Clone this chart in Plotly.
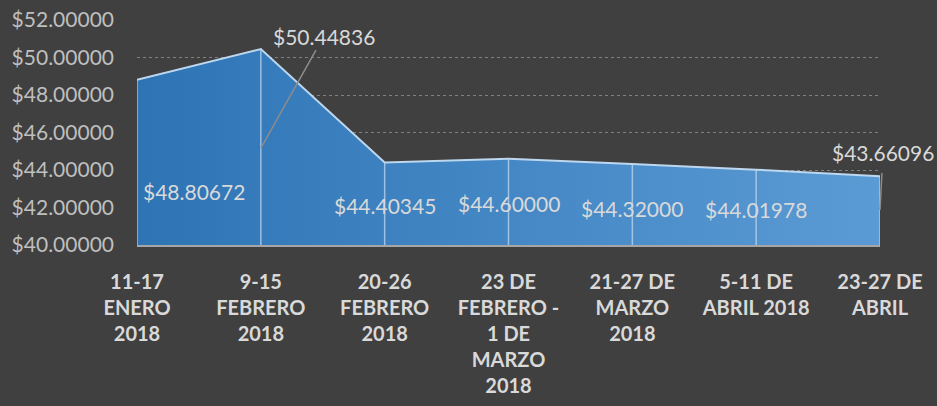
import plotly.graph_objects as go

categories = [
    "11-17<br>ENERO<br>2018",
    "9-15<br>FEBRERO<br>2018",
    "20-26<br>FEBRERO<br>2018",
    "23 DE<br>FEBRERO -<br>1 DE<br>MARZO<br>2018",
    "21-27 DE<br>MARZO<br>2018",
    "5-11 DE<br>ABRIL 2018",
    "23-27 DE<br>ABRIL",
]
prices = [48.80672, 50.44836, 44.40345, 44.60000, 44.32000, 44.01978, 43.66096]
y_ticks = [40, 42, 44, 46, 48, 50, 52]

FONT = "Lato"
LABEL_COLOR = "#D9D9D9"
FS = 21

fig = go.Figure()

# Area with horizontal gradient
fig.add_trace(go.Scatter(
    x=categories, y=prices, mode="lines",
    line=dict(color="#BDD7EE", width=2),
    fill="tozeroy",
    fillgradient=dict(type="horizontal",
                      colorscale=[[0, "#2E74B5"], [1, "#5B9BD5"]]),
    hoverinfo="skip", showlegend=False,
))

# drop lines from axis to each point
dx, dy = [], []
for c, v in zip(categories, prices):
    dx += [c, c, None]
    dy += [y_ticks[0], v, None]
fig.add_trace(go.Scatter(
    x=dx, y=dy, mode="lines",
    line=dict(color="rgba(189,215,238,0.75)", width=1.5),
    hoverinfo="skip", showlegend=False,
))

def fmt(v):
    return "$%.5f" % v

# data labels (positions in axis coordinates)
plain_labels = [(0, 0.46, 42.83), (2, 2.0, 42.13), (3, 3.0, 42.19),
                (4, 4.0, 41.97), (5, 5.0, 41.87)]
for i, xp, yp in plain_labels:
    fig.add_annotation(x=xp, y=yp, text=fmt(prices[i]), showarrow=False,
                       font=dict(family=FONT, size=FS, color=LABEL_COLOR))

# labels with leader lines
fig.add_annotation(x=1, y=45.17, text=fmt(prices[1]), showarrow=True,
                   arrowhead=0, arrowwidth=1.5, arrowcolor="#8C8C8C",
                   ax=63, ay=-112,
                   font=dict(family=FONT, size=FS, color=LABEL_COLOR))
fig.add_annotation(x=6, y=41.87, text=fmt(prices[6]), showarrow=True,
                   arrowhead=0, arrowwidth=1.5, arrowcolor="#8C8C8C",
                   ax=3, ay=-57, startstandoff=6,
                   font=dict(family=FONT, size=FS, color=LABEL_COLOR))

fig.update_layout(
    width=937, height=406,
    paper_bgcolor="#404040", plot_bgcolor="#404040",
    margin=dict(l=137, r=57, t=20, b=161),
    showlegend=False,
    xaxis=dict(
        type="category", range=[0, len(categories) - 1],
        showgrid=False, zeroline=False, automargin=False,
        showline=True, linecolor="#A6A6A6", linewidth=2,
        ticks="", ticklabelstandoff=18,
        tickfont=dict(family=FONT, size=20, color=LABEL_COLOR, weight="bold"),
    ),
    yaxis=dict(
        range=[y_ticks[0], y_ticks[-1]], tickvals=y_ticks,
        ticktext=[fmt(v) for v in y_ticks], automargin=False,
        showgrid=True, gridcolor="#808080", griddash="dot", gridwidth=1,
        zeroline=False, showline=False, ticks="", ticklabelstandoff=22,
        tickfont=dict(family=FONT, size=FS, color="#BFBFBF"),
    ),
)

fig.write_html("out.html",
               config={"displayModeBar": False},
               post_script="document.body.style.margin='0';"
                           "document.body.style.background='#404040';")
